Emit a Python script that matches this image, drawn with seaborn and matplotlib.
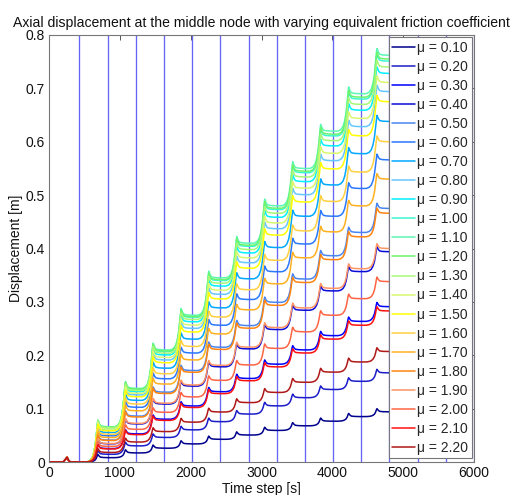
import numpy as np
import pandas as pd
import matplotlib
matplotlib.use("Agg")
import matplotlib.pyplot as plt
import seaborn as sns
from matplotlib.ticker import FuncFormatter

# Equivalent friction coefficients and their line colours
mu_values = [0.10, 0.20, 0.30, 0.40, 0.50, 0.60, 0.70, 0.80, 0.90, 1.00, 1.10,
             1.20, 1.30, 1.40, 1.50, 1.60, 1.70, 1.80, 1.90, 2.00, 2.10, 2.20]
line_colors = ["#00008c", "#1c1cc8", "#0000ff", "#0a0ad8", "#4a86f0", "#2a78ff",
               "#00a8ff", "#64c8ff", "#00f0ff", "#3cf8d0", "#5cf8b4", "#6cf46c",
               "#a8f878", "#d8f870", "#ffff00", "#ffd040", "#ffb020", "#ff8410",
               "#ff9464", "#ff6444", "#ff1010", "#b01818"]

# Displacement on the last plateau (t ~ 4800 s) for each coefficient [m]
final_disp = [0.094, 0.167, 0.291, 0.394, 0.475, 0.566, 0.638, 0.694, 0.728,
              0.751, 0.762, 0.755, 0.740, 0.711, 0.675, 0.600, 0.530, 0.466,
              0.400, 0.338, 0.283, 0.207]

# Plateau levels of the highest curve after each loading step [m]
top_levels = [0.066, 0.138, 0.210, 0.275, 0.345, 0.410, 0.480, 0.550, 0.620,
              0.690, 0.762]

# Times of the displacement peaks of each loading step [s]
peak_times = [690, 1080, 1470, 1865, 2255, 2650, 3045, 3440, 3835, 4230, 4630]
end_time = 4800

# Early bump before the first step [s], [m]
bump_times = [0, 200, 240, 255, 275, 300]
bump_disp = [0.0, 0.0, 0.006, 0.009, 0.003, 0.0]

# Load cycle markers [s]
cycle_marks = [430, 830, 1230, 1630, 2025, 2420, 2820, 3215, 3610, 4010,
               4405, 4805, 5205, 5610, 6000]

# Shape of one step around its peak: time offset [s], fraction of the
# step increment, fraction of the peak overshoot
step_dt = [-150, -110, -80, -55, -35, -20, -8, 0, 10, 22, 40, 80, 150]
step_rise = [0, 0.04, 0.12, 0.28, 0.52, 0.78, 0.95, 1, 1, 1, 1, 1, 1]
step_peak = [0, 0, 0, 0, 0, 0.2, 0.7, 1, 0.75, 0.4, 0.15, 0.05, 0]

labels = [f"\u03bc = {m:.2f}" for m in mu_values]

rows = []
for lab, fin in zip(labels, final_disp):
    levels = [0.0] + [fin * v / top_levels[-1] for v in top_levels]
    over = 0.005 + 0.11 * fin / len(top_levels)
    t_pts = list(bump_times) + [peak_times[0] - 240]
    y_pts = list(bump_disp) + [0.0]
    for k, tp in enumerate(peak_times):
        lo, hi = levels[k], levels[k + 1]
        for dt, fr, pk in zip(step_dt, step_rise, step_peak):
            t_pts.append(tp + dt)
            y_pts.append(lo + fr * (hi - lo) + pk * over)
    t_pts.append(end_time)
    y_pts.append(levels[-1])
    for t, y in zip(t_pts, y_pts):
        rows.append({"t": t, "disp": y, "case": lab})
df = pd.DataFrame(rows)

sns.set_theme(style="white")
plt.rcParams["font.family"] = ["Liberation Sans", "DejaVu Sans"]

fig = plt.figure(figsize=(5.16, 4.95), dpi=100)
ax = fig.add_axes([49 / 516, 1 - 462 / 495, 425 / 516, 427 / 495])

for xm in cycle_marks:
    ax.axvline(xm, color="#6464f6", lw=0.95, zorder=1)

sns.lineplot(data=df, x="t", y="disp", hue="case", hue_order=labels,
             palette=dict(zip(labels, line_colors)), estimator=None,
             sort=False, lw=1.1, ax=ax, zorder=2)

ax.set_xlim(0, 6000)
ax.set_ylim(0, 0.8)
ax.set_xticks(np.arange(0, 6001, 1000))
ax.set_yticks(np.arange(0, 0.81, 0.1))
ax.yaxis.set_major_formatter(FuncFormatter(lambda v, p: f"{v:g}"))
ax.tick_params(direction="in", top=True, right=True, length=3.5, width=0.7,
               color="#555555", labelsize=10, pad=3, labelcolor="#111111")
for sp in ax.spines.values():
    sp.set_color("#777777")
    sp.set_linewidth(0.8)

ax.set_title("Axial displacement at the middle node with varying equivalent friction coefficient",
             fontsize=10.1, pad=6, color="#111111")
ax.set_xlabel("Time step [s]", fontsize=10, labelpad=1, color="#111111")
ax.set_ylabel("Displacement [m]", fontsize=10, labelpad=2, color="#111111")

sns.move_legend(ax, "upper right", bbox_to_anchor=(1.0, 1.0), title=None,
                frameon=True, fontsize=10, labelspacing=0.365,
                handlelength=1.65, handletextpad=0.15, borderpad=0.25,
                borderaxespad=0.15, fancybox=False, framealpha=1)
leg = ax.get_legend()
leg.get_frame().set_edgecolor("#777777")
leg.get_frame().set_linewidth(0.8)
for h in leg.get_lines():
    h.set_linewidth(1.1)

fig.savefig("out.png", dpi=100)
